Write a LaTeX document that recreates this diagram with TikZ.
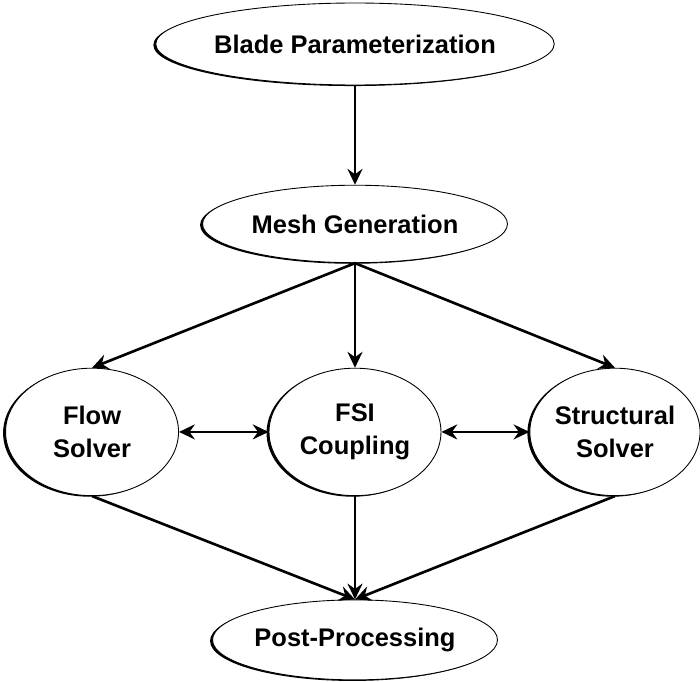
\documentclass[tikz,border=0pt]{standalone}
\usepackage{fontspec}
\setmainfont{Liberation Sans}
\usetikzlibrary{shapes.geometric,shadows,arrows.meta}

\begin{document}
\begin{tikzpicture}[x=0.02cm, y=-0.02cm, ->, >={Stealth[length=9pt, width=8.5pt, inset=3pt]}, line width=1.5pt,
	main node/.style={ellipse, draw, line width=0.5pt, fill=white, inner sep=0pt, align=center,
		font=\fontsize{14.5}{19}\selectfont\bfseries,
		drop shadow={shadow xshift=-1.4pt, shadow yshift=-0.6pt, opacity=1, fill=black}}]

			\useasboundingbox (0,0) rectangle (700,682);

			\node[main node, minimum width=6.6cm, minimum height=1.64cm] (1) at (355,44) {Blade Parameterization};
			\node[main node, minimum width=6.1cm, minimum height=1.55cm] (2) [below of=1, node distance=3.6cm] {Mesh Generation};

			\node[main node, minimum width=3.44cm, minimum height=2.55cm] (4) [below of=2, node distance=4.16cm] {FSI\\Coupling};
			\node[main node, minimum width=3.46cm, minimum height=2.55cm] (3) [left of=4, node distance=5.26cm] {Flow\\Solver};
			\node[main node, minimum width=3.4cm, minimum height=2.55cm] (5) [right of=4, node distance=5.2cm] {Structural\\Solver};

			\node[main node, minimum width=5.7cm, minimum height=1.6cm] (6) [below of=4, node distance=4.16cm] {Post-Processing};

			% geometry and mesh
			\draw (1.south) -- (2.north);
			\draw (2.south) -- (3.north);
			\draw (2.south) -- (4.north);
			\draw (2.south) -- (5.north);

			% coupled solvers
			\draw[<->] (3.east) -- (4.west);
			\draw[<->] (4.east) -- (5.west);

			% results
			\draw (3.south) -- (6.north);
			\draw (4.south) -- (6.north);
			\draw (5.south) -- (6.north);

		\end{tikzpicture}
\end{document}
